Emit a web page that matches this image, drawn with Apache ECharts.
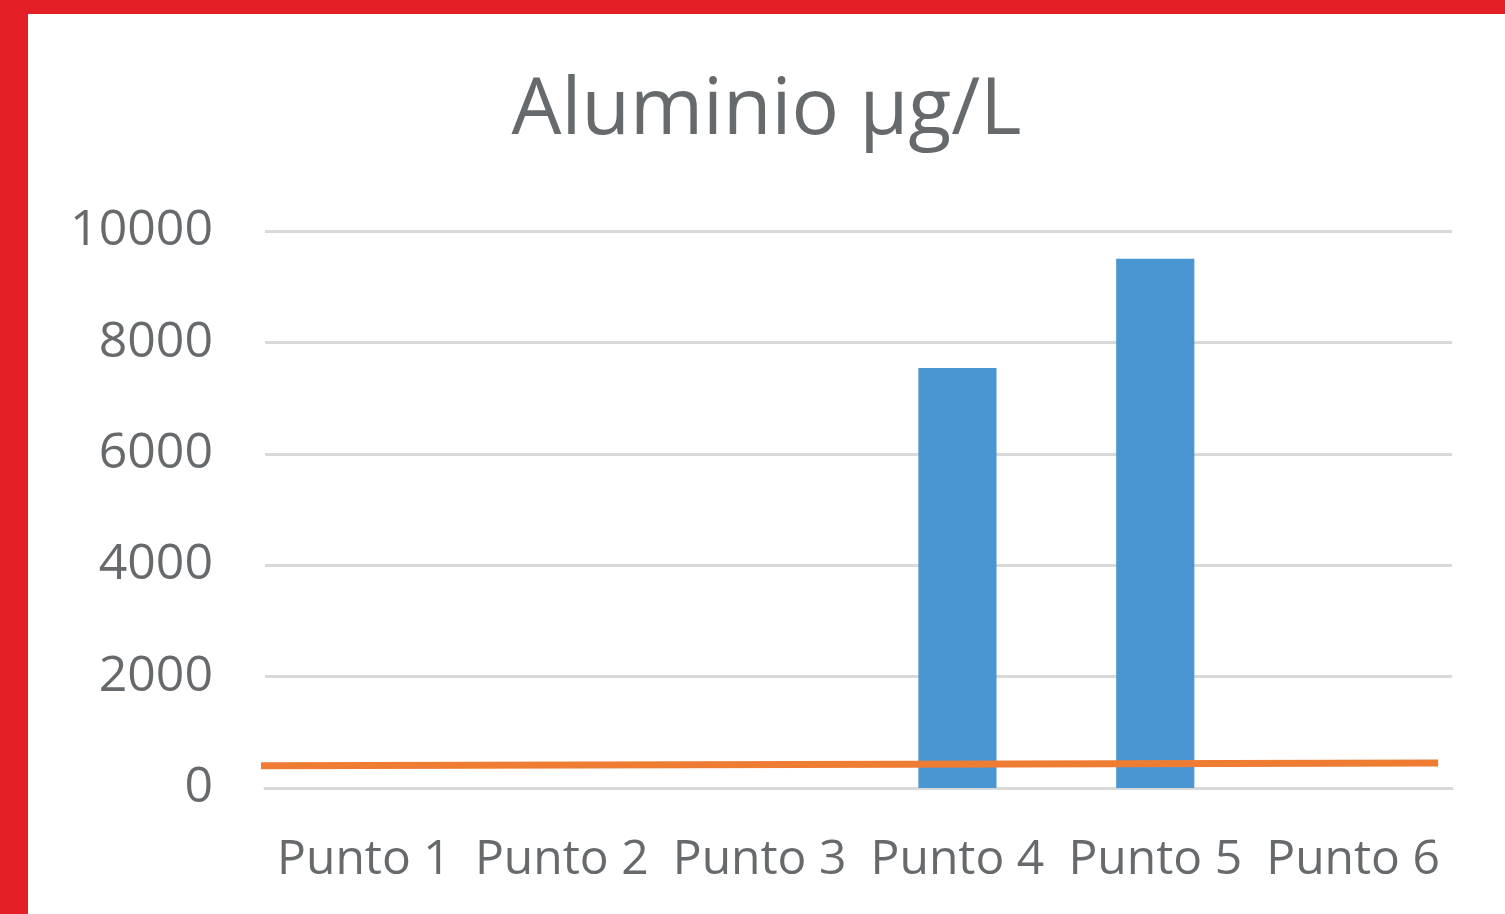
<!DOCTYPE html>
<html>
<head>
<meta charset="utf-8">
<script src="https://cdn.jsdelivr.net/npm/echarts@6/dist/echarts.min.js"></script>
<style>
html,body{margin:0;padding:0;background:#e31e24;width:1505px;height:914px;overflow:hidden;}
#chart{position:absolute;left:28px;top:14px;width:1477px;height:900px;background:#ffffff;}
</style>
</head>
<body>
<div id="chart"></div>
<script>
const categories = ['Punto 1','Punto 2','Punto 3','Punto 4','Punto 5','Punto 6'];
const aluminio = [null, null, null, 7540, 9500, null];
const limiteX = [-0.05, 5.93];
const limiteY = [400, 450];
const yTicks = [0, 2000, 4000, 6000, 8000, 10000];

const chart = echarts.init(document.getElementById('chart'));
const font = '"Open Sans", "Noto Sans", sans-serif';
chart.setOption({
  animation: false,
  title: {
    text: 'Aluminio µg/L',
    left: 'center', top: 53,
    textStyle: {fontFamily: font, fontSize: 79, fontWeight: 'normal', color: '#666a6c'}
  },
  grid: {left: 237, right: 53, top: 217, bottom: 126, containLabel: false},
  xAxis: [{
    type: 'category', data: categories,
    axisLine: {lineStyle: {color: '#d9d9d9', width: 3}},
    axisTick: {show: false},
    axisLabel: {fontFamily: font, fontSize: 48, color: '#666a6c', margin: 48, interval: 0, hideOverlap: false}
  }, {
    type: 'value', min: 0, max: 6, show: false
  }],
  yAxis: {
    type: 'value', min: yTicks[0], max: yTicks[yTicks.length-1], interval: 2000,
    axisLine: {show: false}, axisTick: {show: false},
    splitLine: {lineStyle: {color: '#d9d9d9', width: 3}},
    axisLabel: {fontFamily: font, fontSize: 50, color: '#666a6c', margin: 52, formatter: v => String(v)}
  },
  series: [{
    type: 'bar', data: aluminio, barWidth: '39.5%',
    itemStyle: {color: '#4a96d3'}
  }, {
    type: 'line', xAxisIndex: 1,
    data: limiteX.map((x, i) => [x, limiteY[i]]),
    symbol: 'none', clip: false,
    lineStyle: {color: '#ef7c33', width: 7}
  }]
});
</script>
</body>
</html>
